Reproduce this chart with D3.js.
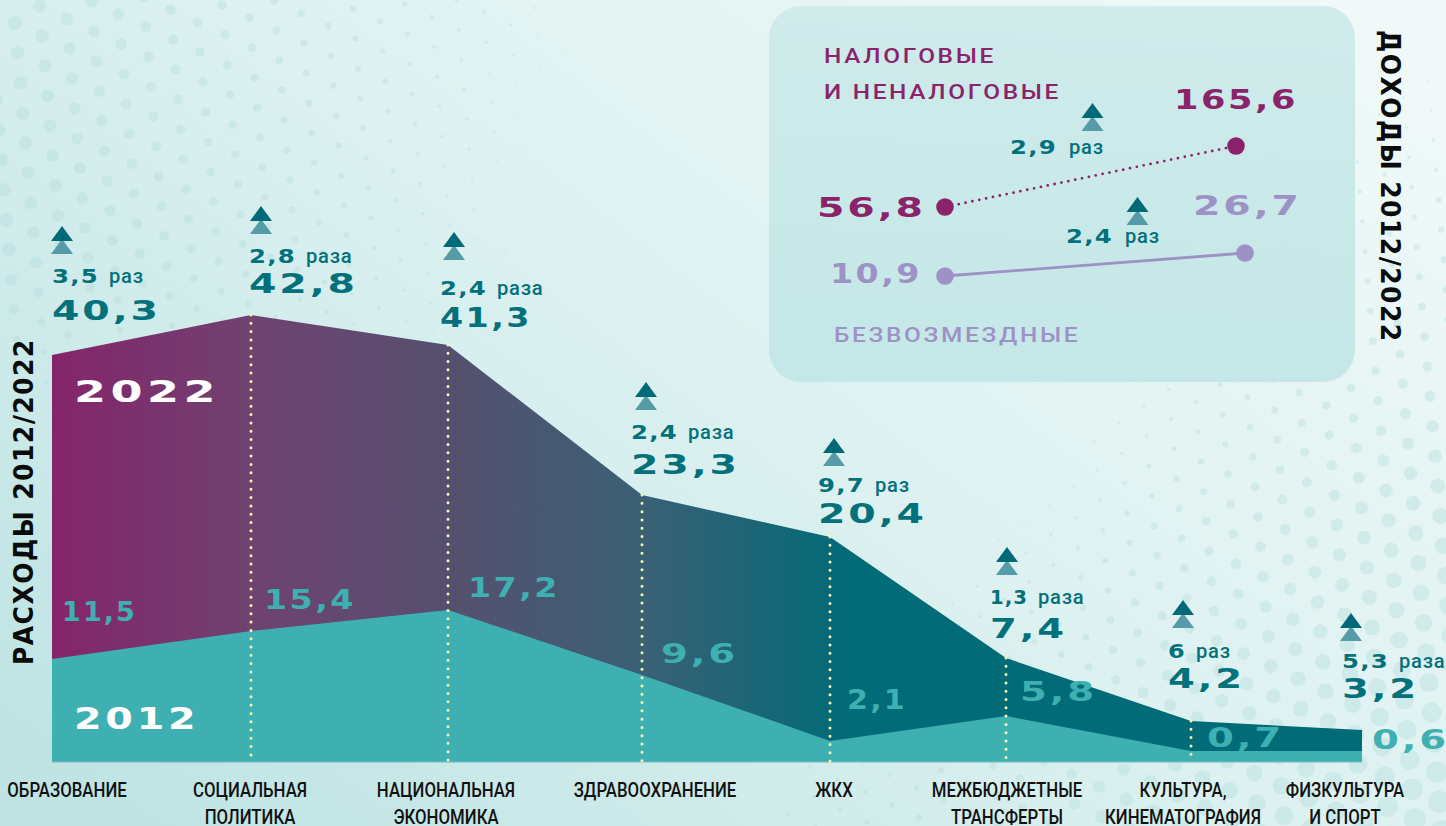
<!DOCTYPE html>
<html>

<head>
	<meta charset="utf-8">
	<title>Расходы и доходы 2012/2022</title>
	<script src="https://d3js.org/d3.v7.min.js"></script>
	<style>
		html, body { margin: 0; padding: 0; background: #dff2f1; overflow: hidden; }
		svg { display: block; }
	</style>
</head>

<body>
	<div id="chart"></div>

	<script>
	var categories = [
		["ОБРАЗОВАНИЕ"], ["СОЦИАЛЬНАЯ", "ПОЛИТИКА"], ["НАЦИОНАЛЬНАЯ", "ЭКОНОМИКА"], ["ЗДРАВООХРАНЕНИЕ"],
		["ЖКХ"], ["МЕЖБЮДЖЕТНЫЕ", "ТРАНСФЕРТЫ"], ["КУЛЬТУРА,", "КИНЕМАТОГРАФИЯ"], ["ФИЗКУЛЬТУРА", "И СПОРТ"]
	];
	// printed values
	var labels2022 = ["40,3", "42,8", "41,3", "23,3", "20,4", "7,4", "4,2", "3,2"];
	var labels2012 = ["11,5", "15,4", "17,2", "9,6", "2,1", "5,8", "0,7", "0,6"];
	var growthNum = ["3,5", "2,8", "2,4", "2,4", "9,7", "1,3", "6", "5,3"];
	var growthWord = ["раз", "раза", "раза", "раза", "раз", "раза", "раз", "раза"];
	// the area in the picture is not to scale with its labels, these are the levels as drawn
	var drawn2022 = [39.13, 42.98, 40.1, 25.67, 21.63, 10, 3.94, 3.08];
	var drawn2012 = [9.9, 12.6, 14.62, 8.37, 2.02, 4.42, 1.06, 1.06];

	var incomeYears = [2012, 2022];
	var incomeTaxLabels = ["56,8", "165,6"];
	var incomeFreeLabels = ["10,9", "26,7"];
	var incomeTaxDrawn = [93, 154];
	var incomeFreeDrawn = [24, 47];

	// hand placed annotations, like the source artwork
	var xStops = [52, 251, 448, 642, 830, 1006, 1191, 1362];
	var labelX = [52, 249, 440, 631, 818, 990, 1168, 1342];
	var valueBase = [320, 293, 327, 474, 523, 638, 688, 698];
	var growthBase = [283, 263, 295, 439, 492, 604, 658, 668];
	var arrowX = [62, 261, 454, 646, 834, 1007, 1183, 1351];
	var arrowTip = [226, 206, 232, 382, 438, 547, 600, 613];
	var oldX = [62, 264, 468, 661, 847, 1020, 1207, 1372];
	var oldBase = [621, 609, 597, 663, 709, 701, 747, 749];
	var catX = [67, 250, 446, 655, 834, 1007, 1183, 1345];

	var width = 1446, height = 826;
	var teal = "#03717b", sea = "#3eb0b1", plum = "#8a2369", lilac = "#9e91c5";

	var svg = d3.select("#chart").append("svg")
		.attr("width", width)
		.attr("height", height);
	var defs = svg.append("defs");

	var bg = defs.append("linearGradient").attr("id", "bg")
		.attr("x1", 0).attr("y1", 0.85).attr("x2", 1).attr("y2", 0.1);
	bg.append("stop").attr("offset", 0).attr("stop-color", "#c0e4e4");
	bg.append("stop").attr("offset", 0.5).attr("stop-color", "#dcf1f0");
	bg.append("stop").attr("offset", 1).attr("stop-color", "#f0f9f8");

	var fill22 = defs.append("linearGradient").attr("id", "fill22")
		.attr("gradientUnits", "userSpaceOnUse")
		.attr("x1", 52).attr("y1", 0).attr("x2", 850).attr("y2", 0);
	fill22.append("stop").attr("offset", 0).attr("stop-color", "#85246b");
	fill22.append("stop").attr("offset", 0.25).attr("stop-color", "#6f4270");
	fill22.append("stop").attr("offset", 0.5).attr("stop-color", "#55506f");
	fill22.append("stop").attr("offset", 0.74).attr("stop-color", "#3a6075");
	fill22.append("stop").attr("offset", 1).attr("stop-color", "#016b78");

	var panelFill = defs.append("linearGradient").attr("id", "panelFill")
		.attr("x1", 0).attr("y1", 0).attr("x2", 0).attr("y2", 1);
	panelFill.append("stop").attr("offset", 0).attr("stop-color", "#cdeaea");
	panelFill.append("stop").attr("offset", 1).attr("stop-color", "#c2e6e6");

	svg.append("rect").attr("width", width).attr("height", height).attr("fill", "url(#bg)");

	// halftone backdrop
	function clamp(v) { return Math.max(0, Math.min(1, v)); }
	function dotSize(x, y) {
		var d = Math.hypot(x - 780, y - 200);
		if (x < 780) return (d - 200) * 0.012 * clamp((450 - y) / 200);
		return (d - 330) * 0.02 * clamp(y / 500) * clamp((x - 650) / 500);
	}
	var dots = [];
	var step = 30, turn = 25 * Math.PI / 180;
	for (var i = -70; i < 70; i++) {
		for (var j = -70; j < 70; j++) {
			var gx = (i + (j % 2 ? 0.5 : 0)) * step, gy = j * step * 0.866;
			var px = gx * Math.cos(turn) - gy * Math.sin(turn) + 700;
			var py = gx * Math.sin(turn) + gy * Math.cos(turn) + 400;
			if (px < -15 || px > width + 15 || py < -15 || py > height + 15) continue;
			var r = dotSize(px, py);
			if (r > 0.4) dots.push([px, py, r]);
		}
	}
	svg.append("g").selectAll("circle").data(dots).enter().append("circle")
		.attr("cx", function(d) { return d[0]; })
		.attr("cy", function(d) { return d[1]; })
		.attr("r", function(d) { return d[2]; })
		.attr("fill", "#b4dddd")
		.attr("opacity", 0.42);

	// text styles, sx stretches the installed fonts towards the wide display face.
	// d, o, c are the widths a digit, a "1" and a comma take in the display numbers
	var styleBig = {font: "DejaVu Sans", size: 27, weight: 700, ls: 2, d: 32, o: 15, c: 13};
	var styleYear = {font: "DejaVu Sans", size: 31, weight: 700, ls: 3, d: 36.5, o: 16, c: 0};
	var styleNum = {font: "DejaVu Sans", size: 19, weight: 700, ls: 1, d: 18, o: 9, c: 11};
	var styleWord = {font: "Roboto", size: 21, weight: 500, sx: 0.96, ls: 0.8};
	var styleCat = {font: "Roboto", size: 20, weight: 500, sx: 0.84, ls: 0};
	var styleSide = {font: "DejaVu Sans", size: 27, weight: 700, sx: 0.93, ls: 1.5};
	var stylePanel = {font: "Roboto", size: 20, weight: 500, sx: 1.22, ls: 2.2};

	function numWidth(str, st) {
		return str.split("").reduce(function(w, ch) {
			return w + (ch === "," ? st.c : ch === "1" ? st.o : st.d);
		}, 0);
	}

	function put(g, str, x, y, st, color, anchor) {
		var t = g.append("text")
			.attr("font-family", st.font)
			.attr("font-size", st.size)
			.attr("font-weight", st.weight)
			.attr("letter-spacing", st.ls)
			.attr("text-anchor", anchor || "start")
			.attr("fill", color)
			.text(str);
		var sx = st.sx || numWidth(str, st) / t.node().getComputedTextLength();
		t.attr("transform", "translate(" + x + "," + y + ") scale(" + sx + ",1)");
		return t;
	}

	function arrow(g, x, tip) {
		var pts = function(top, base) {
			return [[x, top], [x - 11, base], [x + 11, base]].join(" ");
		};
		g.append("polygon").attr("points", pts(tip + 13, tip + 28)).attr("fill", "#569ca8");
		g.append("polygon").attr("points", pts(tip, tip + 15)).attr("fill", "#016a78");
	}

	// scales
	var x = d3.scaleOrdinal()
		.domain(categories.map(function(d) { return d[0]; }))
		.range(xStops);
	var y = d3.scaleLinear().domain([0, 45]).range([762, 294]);

	var area = function(values) {
		return d3.area()
			.x(function(d, i) { return x(categories[i][0]); })
			.y0(y(0))
			.y1(function(d) { return y(d); })(values);
	};

	var chart = svg.append("g");
	chart.append("path").attr("d", area(drawn2022)).attr("fill", "url(#fill22)");
	chart.append("path").attr("d", area(drawn2012)).attr("fill", sea);
	chart.append("line")
		.attr("x1", x(categories[0][0])).attr("x2", x(categories[7][0]))
		.attr("y1", y(0)).attr("y2", y(0))
		.attr("stroke", "#7db8bf").attr("stroke-width", 1);

	// dotted drops, not on the first and last stop
	chart.selectAll("line.drop").data(drawn2022.slice(1, 7)).enter().append("line")
		.attr("class", "drop")
		.attr("x1", function(d, i) { return x(categories[i + 1][0]); })
		.attr("x2", function(d, i) { return x(categories[i + 1][0]); })
		.attr("y1", function(d) { return y(d); })
		.attr("y2", y(0))
		.attr("stroke", "#fdf4ae")
		.attr("stroke-width", 3)
		.attr("stroke-linecap", "round")
		.attr("stroke-dasharray", "0 8.3");

	categories.forEach(function(lines, i) {
		arrow(chart, arrowX[i], arrowTip[i]);
		put(chart, labels2022[i], labelX[i], valueBase[i], styleBig, teal);
		put(chart, growthNum[i], labelX[i], growthBase[i], styleNum, teal);
		put(chart, growthWord[i], labelX[i] + numWidth(growthNum[i], styleNum) + 10, growthBase[i], styleWord, teal);
		put(chart, labels2012[i], oldX[i], oldBase[i], styleBig, sea);
		lines.forEach(function(t, k) {
			put(chart, t, catX[i], 797 + k * 27, styleCat, "#111", "middle");
		});
	});

	put(chart, "2022", 74, 402, styleYear, "#fff");
	put(chart, "2012", 74, 729, styleYear, "#fff");

	put(svg.append("g").attr("transform", "translate(33,665) rotate(-90)"), "РАСХОДЫ 2012/2022", 0, 0, styleSide, "#0b0b0b");
	put(svg.append("g").attr("transform", "translate(1381,30) rotate(90)"), "ДОХОДЫ 2012/2022", 0, 0, styleSide, "#0b0b0b");

	// income panel
	var panel = svg.append("g");
	panel.append("rect")
		.attr("x", 769).attr("y", 6).attr("width", 586).attr("height", 376).attr("rx", 32)
		.attr("fill", "url(#panelFill)").attr("opacity", 0.92);

	var yPanel = d3.scaleLinear().domain([0, 200]).range([300, 100]);
	var xTax = d3.scalePoint().domain(incomeYears).range([945, 1236]);
	var xFree = d3.scalePoint().domain(incomeYears).range([945, 1245]);
	var incomeLine = function(xs) {
		return d3.line()
			.x(function(d, i) { return xs(incomeYears[i]); })
			.y(function(d) { return yPanel(d); });
	};

	panel.append("path").attr("d", incomeLine(xTax)(incomeTaxDrawn))
		.attr("fill", "none").attr("stroke", plum).attr("stroke-width", 2.8)
		.attr("stroke-linecap", "round").attr("stroke-dasharray", "0 7");
	panel.append("path").attr("d", incomeLine(xFree)(incomeFreeDrawn))
		.attr("fill", "none").attr("stroke", lilac).attr("stroke-width", 2.8);

	panel.selectAll("circle.tax").data(incomeTaxDrawn).enter().append("circle")
		.attr("class", "tax")
		.attr("cx", function(d, i) { return xTax(incomeYears[i]); })
		.attr("cy", function(d) { return yPanel(d); })
		.attr("r", 8.8).attr("fill", plum);
	panel.selectAll("circle.free").data(incomeFreeDrawn).enter().append("circle")
		.attr("class", "free")
		.attr("cx", function(d, i) { return xFree(incomeYears[i]); })
		.attr("cy", function(d) { return yPanel(d); })
		.attr("r", 8.8).attr("fill", lilac);

	put(panel, incomeTaxLabels[0], 817, 217, styleBig, plum);
	put(panel, incomeTaxLabels[1], 1174, 109, styleBig, plum);
	put(panel, incomeFreeLabels[0], 830, 283, styleBig, lilac);
	put(panel, incomeFreeLabels[1], 1193, 215, styleBig, lilac);

	put(panel, "НАЛОГОВЫЕ", 824, 63, stylePanel, plum);
	put(panel, "И НЕНАЛОГОВЫЕ", 824, 99, stylePanel, plum);
	put(panel, "БЕЗВОЗМЕЗДНЫЕ", 834, 342, stylePanel, lilac);

	arrow(panel, 1092.5, 103);
	arrow(panel, 1137.5, 197);
	put(panel, "2,9", 1010, 154, styleNum, teal);
	put(panel, "раз", 1069, 154, styleWord, teal);
	put(panel, "2,4", 1066, 243, styleNum, teal);
	put(panel, "раз", 1125, 243, styleWord, teal);
	</script>
</body>

</html>
